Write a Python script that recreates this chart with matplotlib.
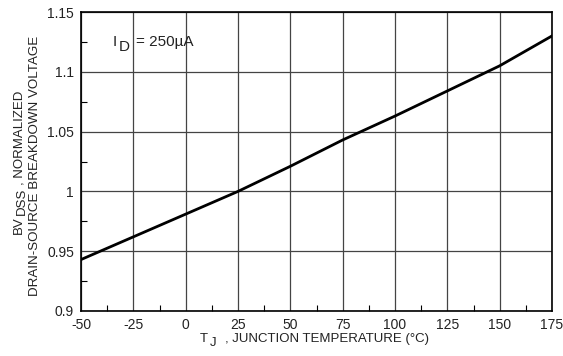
import matplotlib
matplotlib.use("Agg")
from matplotlib import pyplot as plt
from matplotlib.ticker import MultipleLocator
from matplotlib.transforms import IdentityTransform

# breakdown voltage vs junction temperature
temp = [-50, -25, 0, 25, 50, 75, 100, 125, 150, 175]
bv_norm = [0.943, 0.962, 0.981, 1.000, 1.021, 1.043, 1.063, 1.084, 1.105, 1.130]
x_ticks = [-50, -25, 0, 25, 50, 75, 100, 125, 150, 175]
y_ticks = [0.9, 0.95, 1.0, 1.05, 1.1, 1.15]
y_labels = ["0.9", "0.95", "1", "1.05", "1.1", "1.15"]

W, H = 563, 356
TXT = "#222222"
plt.rcParams['font.family'] = ['Liberation Sans', 'DejaVu Sans']
plt.rcParams['axes.unicode_minus'] = False

fig = plt.figure(figsize=(W / 100, H / 100), dpi=100)
ax = fig.add_axes([81 / W, 1 - 311 / H, 471 / W, 299 / H])

ax.plot(temp, bv_norm, color="black", linewidth=2.0, zorder=3)

ax.set_xlim(-50, 175)
ax.set_ylim(0.9, 1.15)
ax.set_xticks(x_ticks)
ax.set_yticks(y_ticks)
ax.set_yticklabels(y_labels)
ax.xaxis.set_minor_locator(MultipleLocator(12.5))
ax.yaxis.set_minor_locator(MultipleLocator(0.025))
ax.tick_params(which="both", direction="in", top=False, right=False,
               labelsize=10, labelcolor=TXT, color="black", width=0.8)
ax.tick_params(which="major", length=0, pad=5)
ax.tick_params(which="minor", length=4)
ax.grid(True, which="major", color="#444444", linewidth=0.9)
for s in ax.spines.values():
    s.set_linewidth(1.2)

renderer = fig.canvas.get_renderer()


def run_text(x, y, parts, size, rotation=0):
    # parts: (string, drop px, gap after px); x, y = pixels from top-left
    # rotated runs are centred on y, flat runs start at x
    texts = []
    total = 0
    for s, drop, gap in parts:
        t = fig.text(0, 0, s, transform=IdentityTransform(), fontsize=size, color=TXT,
                     rotation=rotation, rotation_mode="anchor", ha="left", va="baseline")
        bb = t.get_window_extent(renderer)
        n = bb.height if rotation == 90 else bb.width
        texts.append((t, drop, total))
        total += n + gap
    for t, drop, off in texts:
        if rotation == 90:
            t.set_position((x + drop, H - y - total / 2 + off))
        else:
            t.set_position((x + off, H - y - drop))


# I_D annotation
run_text(113, 46, [("I", 0, 2), ("D", 5, 6), ("= 250µA", 0, 0)], 11)

# x label
run_text(200, 342, [("T", 0, 2), ("J", 4, 8), (", JUNCTION TEMPERATURE (°C)", 0, 0)], 9.5)

# y label, two lines
run_text(22, 162, [("BV", 0, 1), ("DSS", 3, 3), (", NORMALIZED", 0, 0)], 9.5, rotation=90)
run_text(38, 166, [("DRAIN-SOURCE BREAKDOWN VOLTAGE", 0, 0)], 9.6, rotation=90)

fig.savefig("out.png", dpi=100)
